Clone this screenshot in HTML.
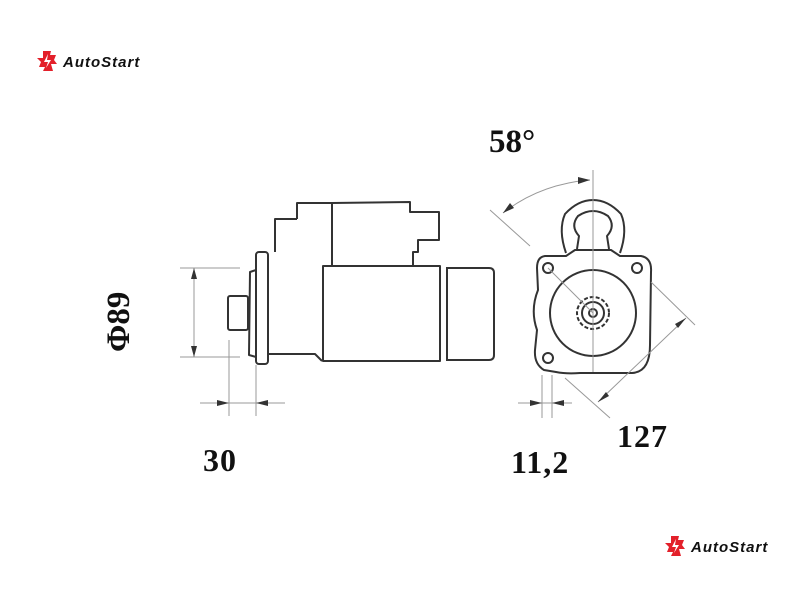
<!DOCTYPE html>
<html><head><meta charset="utf-8"><style>
html,body{margin:0;padding:0;background:#fff;width:800px;height:600px;overflow:hidden}
svg{display:block}
.l{fill:none;stroke:#333;stroke-width:2;stroke-linejoin:round}
.t{fill:none;stroke:#999;stroke-width:1}
.d{font-family:"Liberation Serif",serif;font-weight:bold;fill:#111}
.logo{font-family:"Liberation Sans",sans-serif;font-weight:bold;font-style:italic;fill:#111;letter-spacing:1px}
</style></head><body>
<svg width="800" height="600" viewBox="0 0 800 600" xmlns="http://www.w3.org/2000/svg">
<defs>
<g id="lg">
<path d="M6 0 L14 0 L13 4 L19 4 L17 9 L20 13 L14 13 L16 20 L6 20 L8 16 L2 16 L4 11 L0 7 L6 7 Z" fill="#e3202a"/>
<path d="M11 3 L7 11 L11 11 L9 17 L14 9 L10 9 Z" fill="#fff"/>
</g>
</defs>
<use href="#lg" x="37" y="51"/>
<text class="logo" x="63" y="67" font-size="15">AutoStart</text>
<use href="#lg" x="665" y="536"/>
<text class="logo" x="691" y="552" font-size="15">AutoStart</text>

<!-- side view -->
<path class="l" d="M297 219 L297 203 L332 203 L410 202 L410 212 L439 212 L439 240 L418 240 L418 252 L413 252 L413 266"/>
<path class="l" d="M332 203 L332 266"/>
<path class="l" d="M275 252 L275 219 L297 219"/>
<rect class="l" x="256" y="252" width="12" height="112" rx="3"/>
<path class="l" d="M256 270 L250 272 L249 355 L256 357"/>
<rect class="l" x="228" y="296" width="20" height="34" rx="2"/>
<path class="l" d="M268 354 L315 354 L322 361"/>
<rect class="l" x="323" y="266" width="117" height="95"/>
<path class="l" d="M440 266 L440 361 M447 267 L447 361"/>
<path class="l" d="M447 268 L489 268 Q494 268 494 273 L494 355 Q494 360 489 360 L447 360"/>
<path class="t" d="M180 268 L240 268 M180 357 L240 357 M194 268 L194 357"/>
<path d="M194 268 L191 279 L197 279Z M194 357 L191 346 L197 346Z" fill="#333"/>
<path class="t" d="M229 340 L229 416 M256 365 L256 416 M200 403 L285 403"/>
<path d="M229 403 L217 400 L217 406Z M256 403 L268 400 L268 406Z" fill="#333"/>

<!-- front view -->
<path class="l" d="M566 253 Q558 230 565 214 Q578 200 593 200 Q608 200 621 214 Q628 230 620 253"/>
<path class="l" d="M577 249 L579 236 Q570 226 578 216 Q593 206 608 216 Q616 226 607 236 L609 249"/>
<path class="l" d="M545 256 L566 256 L575 250 L611 250 L620 256 L641 256 Q652 258 651 272 L650 345 Q650 372 632 373 L580 373 Q566 374 556 372 L544 370 Q534 364 535 350 L537 330 Q530 310 538 290 L537 268 Q537 257 545 256Z"/>
<circle class="l" cx="548" cy="268" r="5"/>
<circle class="l" cx="637" cy="268" r="5"/>
<circle class="l" cx="548" cy="358" r="5"/>
<circle class="l" cx="593" cy="313" r="43"/>
<circle class="l" cx="593" cy="313" r="16" stroke-dasharray="4 2"/>
<circle class="l" cx="593" cy="313" r="11"/>
<circle class="l" cx="593" cy="313" r="4"/>
<path class="t" d="M593 170 L593 372 M548 268 L593 313" stroke="#444"/>
<path class="t" d="M490 210 L530 246 M503 213 Q540 184 590 180"/>
<path d="M590 180 L578 177 L578 184Z M503 213 L510 203 L514 208Z" fill="#333"/>
<path class="t" d="M651 282 L695 325 M565 378 L610 418 M598 402 L686 318"/>
<path d="M686 318 L678 328 L675 324Z M598 402 L606 392 L609 396Z" fill="#333"/>
<path class="t" d="M542 375 L542 418 M552 375 L552 418 M518 403 L572 403"/>
<path d="M542 403 L530 400 L530 406Z M552 403 L564 400 L564 406Z" fill="#333"/>

<text class="d" x="489" y="152" font-size="33">58°</text>
<text class="d" x="203" y="471" font-size="32" letter-spacing="1">30</text>
<text class="d" x="511" y="473" font-size="32" letter-spacing="1">11,2</text>
<text class="d" x="617" y="447" font-size="32" letter-spacing="1">127</text>
<text class="d" font-size="33" transform="translate(129 352) rotate(-90)">Φ89</text>
</svg>
</body></html>
